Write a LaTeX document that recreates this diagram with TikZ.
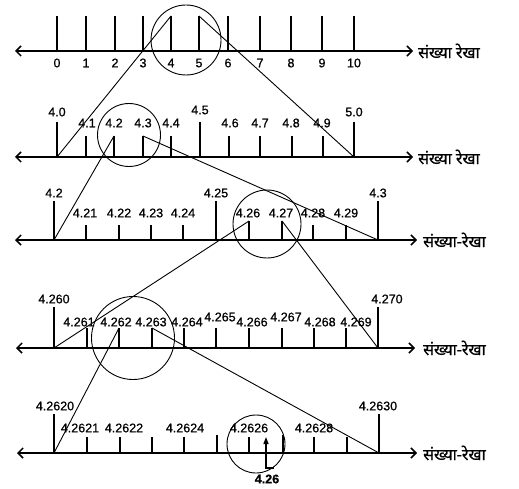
\documentclass[tikz,border=0pt]{standalone}
\usepackage{fontspec}
\setmainfont[FakeBold=0.8]{Liberation Sans}
\newfontfamily\deva[Script=Devanagari,FakeBold=0.8]{Noto Sans}
\usetikzlibrary{arrows.meta}
\begin{document}
\begin{tikzpicture}[x=1pt,y=-1pt,
  barb/.tip={Straight Barb[length=5pt,width=10pt,line width=1.5pt]},
  axis/.style={line width=1.7pt,barb-barb},
  tick/.style={line width=1.1pt},
  thicktick/.style={line width=2.2pt},
  conn/.style={line width=0.9pt},
  ring/.style={circle,draw,line width=0.9pt,inner sep=0pt},
  lab/.style={font=\fontsize{12.5}{14}\selectfont,inner sep=0pt},
  hin/.style={font=\deva\fontsize{16}{18}\selectfont,anchor=west,inner sep=0pt}]
\useasboundingbox (0,0) rectangle (519,489);

% ---------- line 1 ----------
\foreach \i/\x in {0/57,1/86,2/115,3/143,4/171,5/199,6/228,7/260,8/291,9/322,10/354}{
  \coordinate (A\i) at (\x,51);
  \coordinate (At\i) at (\x,16);
  \node[lab] (Al\i) at (\x,63) {\i};
}
\foreach \i in {0,1,2,3,6,7,8,9,10}{\draw[tick] (A\i) -- (At\i);}
\draw[thicktick] (A4) -- (At4);
\draw[thicktick] (A5) -- (At5);
\coordinate (AL) at (15,51);
\coordinate (AR) at (413,51);
\draw[axis] (AL) -- (AR);
\node[hin] (Ah) at (418,51) {संख्या रेखा};
\node[ring,minimum size=70pt] (C1) at (186,40) {};

% ---------- line 2 ----------
\foreach \i/\x/\t/\lx/\ly/\txt in {0/57/122/57/112/4.0,1/86/136/87/123/4.1,2/114/136/114/123/4.2,3/143/136/143/123/4.3,4/171/136/171/123/4.4,5/200/122/200/110/4.5,6/229/136/230/123/4.6,7/260/136/260/123/4.7,8/292/136/291/123/4.8,9/323/136/322/123/4.9,10/354/122/354/112/5.0}{
  \coordinate (B\i) at (\x,157);
  \coordinate (Bt\i) at (\x,\t);
  \draw[tick] (B\i) -- (Bt\i);
  \node[lab] (Bl\i) at (\lx,\ly) {\txt};
}
\coordinate (BL) at (15,157);
\coordinate (BR) at (413,157);
\draw[axis] (BL) -- (BR);
\node[hin] (Bh) at (418,157) {संख्या रेखा};
\node[ring,minimum size=63pt] (C2) at (129,135) {};

% ---------- line 3 ----------
\foreach \i/\x/\t/\lx/\ly/\txt in {0/54/201/54/193/4.2,1/86/225/85/213/4.21,2/119/225/119/213/4.22,3/151/225/151/213/4.23,4/183/225/183/213/4.24,5/216/201/216/193/4.25,6/249/221/248/213/4.26,7/282/221/281/213/4.27,8/313/225/313/213/4.28,9/346/225/346/213/4.29,10/378/201/378/193/4.3}{
  \coordinate (D\i) at (\x,240);
  \coordinate (Dt\i) at (\x,\t);
  \draw[tick] (D\i) -- (Dt\i);
  \node[lab] (Dl\i) at (\lx,\ly) {\txt};
}
\coordinate (DL) at (15,240);
\coordinate (DR) at (417,240);
\draw[axis] (DL) -- (DR);
\node[hin] (Dh) at (423,240) {संख्या-रेखा};
\node[ring,minimum size=68pt] (C3) at (267,224) {};

% ---------- line 4 ----------
\foreach \i/\x/\t/\lx/\ly/\txt in {0/54/307/54/299/4.260,1/87/328/79/322/4.261,2/119/328/116/322/4.262,3/152/328/151/322/4.263,4/184/328/187/322/4.264,5/216/328/220/317/4.265,6/249/328/252/322/4.266,7/282/328/286/317/4.267,8/314/328/320/322/4.268,9/346/328/356/322/4.269,10/378/307/387/299/4.270}{
  \coordinate (E\i) at (\x,348);
  \coordinate (Et\i) at (\x,\t);
  \draw[tick] (E\i) -- (Et\i);
  \node[lab] (El\i) at (\lx,\ly) {\txt};
}
\coordinate (EL) at (16,348);
\coordinate (ER) at (415,348);
\draw[axis] (EL) -- (ER);
\node[hin] (Eh) at (423,348) {संख्या-रेखा};
\node[ring,minimum size=83pt] (C4) at (133,338) {};

% ---------- line 5 ----------
\foreach \i/\x/\t in {0/54/414,1/87/437,2/120/437,3/152/437,4/184/437,5/217/435,6/249/437,7/283/435,8/314/437,9/347/437,10/379/414}{
  \coordinate (F\i) at (\x,453);
  \coordinate (Ft\i) at (\x,\t);
  \draw[tick] (F\i) -- (Ft\i);
}
\node[lab] (Fl0) at (55,406) {4.2620};
\node[lab] (Fl1) at (80,428) {4.2621};
\node[lab] (Fl2) at (124,428) {4.2622};
\node[lab] (Fl4) at (185,428) {4.2624};
\node[lab] (Fl6) at (249,428) {4.2626};
\node[lab] (Fl8) at (314,428) {4.2628};
\node[lab] (Fl10) at (378,406) {4.2630};
\coordinate (FL) at (17,453);
\coordinate (FR) at (417,453);
\draw[axis] (FL) -- (FR);
\node[hin] (Fh) at (423,453) {संख्या-रेखा};
\node[ring,minimum size=58pt] (C5) at (256,444) {};

% ---------- connectors ----------
\draw[conn] (At4) -- (B0);
\draw[conn] (At5) -- (B10);
\draw[conn] (Bt2) -- (D0);
\draw[conn] (Bt3) -- (D10);
\draw[conn] (Dt6) -- (E0);
\draw[conn] (Dt7) -- (E10);
\draw[conn] (Et2) -- (F0);
\draw[conn] (Et3) -- (F10);

% ---------- marker ----------
\coordinate (P1) at (266,468);
\coordinate (P2) at (266,437);
\coordinate (P3) at (274,468);
\draw[line width=1.3pt,-{Triangle[length=7pt,width=5pt]}] (P3) -- (P1) -- (P2);
\node[lab,font=\bfseries\fontsize{12.5}{14}\selectfont] (V) at (267,479) {4.26};
\end{tikzpicture}
\end{document}
